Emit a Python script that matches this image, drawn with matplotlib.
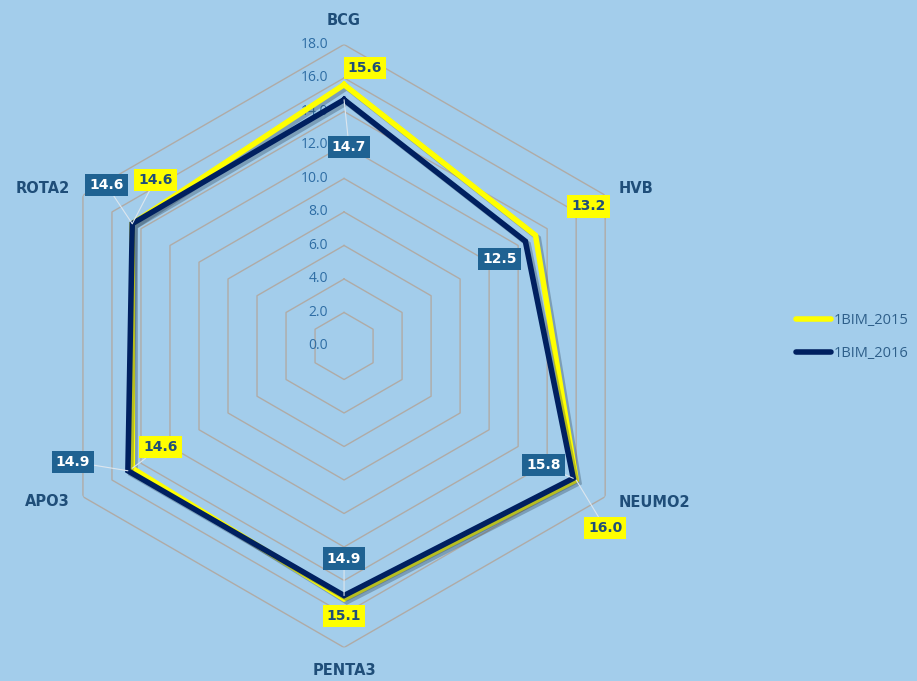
import numpy as np
import matplotlib.pyplot as plt
import matplotlib.patheffects as pe
from matplotlib.lines import Line2D

# datos
categorias = ['BCG', 'HVB', 'NEUMO2', 'PENTA3', 'APO3', 'ROTA2']
bim_2015 = [15.6, 13.2, 16.0, 15.1, 14.6, 14.6]
bim_2016 = [14.7, 12.5, 15.8, 14.9, 14.9, 14.6]
series = ['1BIM_2015', '1BIM_2016']
anillos = [2, 4, 6, 8, 10, 12, 14, 16, 18]
ticks_r = [0, 2, 4, 6, 8, 10, 12, 14, 16, 18]

fondo = '#A3CDEB'
amarillo = '#FFFF00'
azul_osc = '#002060'
caja_azul = '#1F6292'
texto_azul = '#1F4E79'
negrita = ['DejaVu Sans']

plt.rcParams['font.family'] = ['Open Sans', 'DejaVu Sans']

fig = plt.figure(figsize=(9.17, 6.81), dpi=100)
fig.patch.set_facecolor(fondo)
ax = fig.add_axes([0.0464, 0.0492, 0.6576, 0.8855], projection='polar')
ax.set_facecolor('none')
ax.set_theta_offset(np.pi / 2)
ax.set_theta_direction(-1)
ax.set_ylim(0, 18)
ax.grid(False)
ax.spines['polar'].set_visible(False)
ax.set_xticks([])
ax.set_yticks([])

ang = np.linspace(0, 2 * np.pi, len(categorias), endpoint=False)
ang_c = np.append(ang, ang[0])

# hexagonos de la rejilla
for v in anillos:
    ax.plot(ang_c, [v] * len(ang_c), color='#B0ABA6', lw=1, zorder=1)

# etiquetas del eje radial
for v in ticks_r:
    ax.annotate(f'{v:.1f}', xy=(0, v), xytext=(-16, 0), textcoords='offset pixels',
                ha='right', va='center', fontsize=10, color='#2E6DA4')

# categorias
off_cat = [(0, 24, 'center'), (13, 7, 'left'), (13, -6, 'left'),
           (0, -23, 'center'), (-13, -5, 'right'), (-13, 7, 'right')]
for a, c, (dx, dy, ha) in zip(ang, categorias, off_cat):
    ax.annotate(c, xy=(a, 18), xytext=(dx, dy), textcoords='offset pixels',
                ha=ha, va='center', fontsize=10.5, fontweight='bold', color=texto_azul,
                family=negrita)

sombra = [pe.SimpleLineShadow(offset=(2, -2), shadow_color='#33475a', alpha=0.35), pe.Normal()]
ax.plot(ang_c, bim_2015 + bim_2015[:1], color=amarillo, lw=4, zorder=3,
        path_effects=sombra, solid_joinstyle='miter')
ax.plot(ang_c, bim_2016 + bim_2016[:1], color=azul_osc, lw=4, zorder=4,
        path_effects=sombra, solid_joinstyle='miter')

# etiquetas de datos
off_2015 = [(21, 17, False), (53, 29, False), (29, -48, True),
            (0, -17, False), (28, 21, True), (23, 44, True)]
off_2016 = [(5, -47, True), (-26, -18, False), (-30, 13, True),
            (0, 37, True), (-55, 9, True), (-26, 39, True)]

for vals, offs, bg, fg in [(bim_2015, off_2015, amarillo, texto_azul),
                           (bim_2016, off_2016, caja_azul, 'white')]:
    for a, v, (dx, dy, guia) in zip(ang, vals, offs):
        flecha = dict(arrowstyle='-', color='#DDE6EE', lw=0.8, shrinkA=0, shrinkB=0) if guia else None
        ax.annotate(f'{v:.1f}', xy=(a, v), xytext=(dx, dy), textcoords='offset pixels',
                    ha='center', va='center', fontsize=10, fontweight='bold', color=fg,
                    family=negrita,
                    bbox=dict(boxstyle='square,pad=0.3', fc=bg, ec='none'),
                    arrowprops=flecha, zorder=6)

manejadores = [Line2D([], [], color=amarillo, lw=4, solid_capstyle='round'),
               Line2D([], [], color=azul_osc, lw=4, solid_capstyle='round')]
fig.legend(manejadores, series, loc='center left', bbox_to_anchor=(783 / 917, 1 - 337 / 681),
           frameon=False, handlelength=2.4, handletextpad=0.2, labelspacing=1.2, fontsize=10.5,
           labelcolor='#2E5F8A')

fig.savefig('out.png', dpi=100, facecolor=fondo)
